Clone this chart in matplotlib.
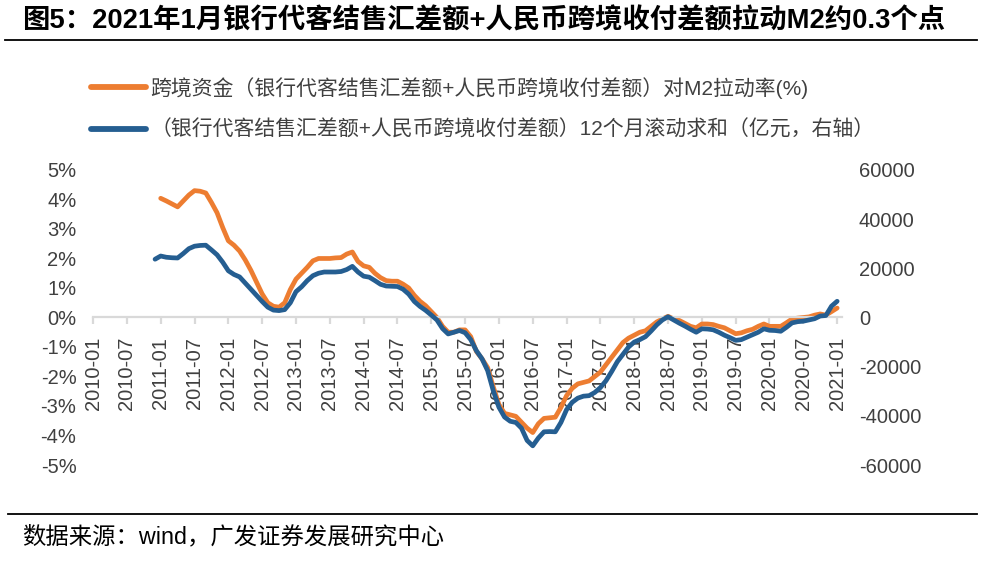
import numpy as np
import matplotlib
matplotlib.use("Agg")
from matplotlib import pyplot as plt

plt.rcParams['font.family'] = ['Liberation Sans', 'Noto Sans CJK SC']
plt.rcParams['axes.unicode_minus'] = False

# x axis: months counted from 2010-01
tick_pos = list(range(0, 133, 6))
tick_labels = ['2010-01', '2010-07', '2011-01', '2011-07', '2012-01', '2012-07',
               '2013-01', '2013-07', '2014-01', '2014-07', '2015-01', '2015-07',
               '2016-01', '2016-07', '2017-01', '2017-07', '2018-01', '2018-07',
               '2019-01', '2019-07', '2020-01', '2020-07', '2021-01']

# 跨境资金对M2拉动率 (%), monthly from 2011-01 to 2021-01
pull_start = 12
pull_rate = [
    4.04, 3.95, 3.85, 3.75, 3.95, 4.15, 4.30, 4.28, 4.22, 3.90, 3.55, 3.05,   # 2011
    2.60, 2.45, 2.25, 1.95, 1.60, 1.20, 0.80, 0.50, 0.38, 0.35, 0.50, 0.95,   # 2012
    1.30, 1.50, 1.70, 1.92, 2.00, 2.00, 2.00, 2.02, 2.03, 2.15, 2.22, 1.90,   # 2013
    1.75, 1.70, 1.50, 1.35, 1.25, 1.23, 1.23, 1.13, 1.00, 0.75, 0.55, 0.40,   # 2014
    0.20, 0.00, -0.30, -0.50, -0.50, -0.42, -0.42, -0.65, -1.15, -1.40, -1.70, -2.35,  # 2015
    -2.95, -3.25, -3.30, -3.35, -3.55, -3.75, -3.90, -3.60, -3.42, -3.40, -3.38, -3.05,  # 2016
    -2.65, -2.40, -2.25, -2.20, -2.15, -2.00, -1.85, -1.60, -1.35, -1.10, -0.85, -0.70,  # 2017
    -0.60, -0.50, -0.45, -0.30, -0.15, -0.05, 0.04, -0.05, -0.10, -0.20, -0.30, -0.35,  # 2018
    -0.22, -0.22, -0.24, -0.30, -0.35, -0.45, -0.55, -0.52, -0.45, -0.40, -0.30, -0.22,  # 2019
    -0.30, -0.30, -0.30, -0.18, -0.05, -0.02, 0.00, 0.02, 0.08, 0.12, 0.08, 0.20,   # 2020
    0.32,                                                                        # 2021-01
]

# 12个月滚动求和 (亿元), monthly from 2010-12 to 2021-01
roll_start = 11
roll_sum = [
    23700,
    25000, 24500, 24300, 24200, 26000, 28000, 29000, 29300, 29400, 27500, 25500, 22500,  # 2011
    19000, 17500, 16500, 14000, 11500, 9000, 6500, 4200, 3000, 2800, 3200, 6000,        # 2012
    10500, 12500, 15000, 17000, 18000, 18500, 18500, 18500, 18700, 19500, 20800, 18500,  # 2013
    16800, 16400, 15000, 13500, 12800, 12700, 12600, 11500, 9500, 6500, 4500, 2900,      # 2014
    1000, -1000, -4500, -6700, -6000, -5300, -6200, -9000, -13500, -16800, -21600, -29800,  # 2015
    -36500, -40500, -42200, -42700, -45000, -50000, -52200, -49000, -46500, -46400, -46500, -42700,  # 2016
    -37500, -34500, -32800, -32000, -31800, -30500, -28500, -25700, -22000, -18000, -15000, -12000,  # 2017
    -10000, -9000, -7800, -5500, -3000, -1000, 300, -1000, -2300, -3500, -4800, -6000,   # 2018
    -4600, -4700, -5000, -6000, -7200, -8200, -9300, -9000, -8000, -7000, -6000, -4600,  # 2019
    -5200, -5300, -5600, -4000, -2200, -1700, -1500, -1000, -500, 600, 800, 4600,        # 2020
    6600,                                                                              # 2021-01
]

label_pull = '跨境资金（银行代客结售汇差额+人民币跨境收付差额）对M2拉动率(%)'
label_roll = '（银行代客结售汇差额+人民币跨境收付差额）12个月滚动求和（亿元，右轴）'
title = '图5：2021年1月银行代客结售汇差额+人民币跨境收付差额拉动M2约0.3个点'
source = '数据来源：wind，广发证券发展研究中心'

orange = '#ED7D31'
blue = '#255E91'
grey_txt = '#404040'
axis_grey = '#D9D9D9'

fig = plt.figure(figsize=(9.92, 5.70), dpi=100)
ax = fig.add_axes([0.0938, 0.1842, 0.7552, 0.5176])
ax2 = ax.twinx()

x_pull = np.arange(pull_start, pull_start + len(pull_rate))
x_roll = np.arange(roll_start, roll_start + len(roll_sum))
l1, = ax.plot(x_pull, pull_rate, color=orange, lw=3.4,
              solid_capstyle='round', solid_joinstyle='round', label=label_pull)
l2, = ax2.plot(x_roll, roll_sum, color=blue, lw=3.4,
               solid_capstyle='round', solid_joinstyle='round', label=label_roll)

ax.set_xlim(0, 132.9)
ax.set_ylim(-5, 5)
ax2.set_ylim(-60000, 60000)

ax.set_yticks(range(-5, 6))
ax.set_yticklabels([f'{v}%' for v in range(-5, 6)])
ax2.set_yticks(range(-60000, 60001, 20000))

for a in (ax, ax2):
    for s in a.spines.values():
        s.set_visible(False)

ax.spines['bottom'].set_visible(True)
ax.spines['bottom'].set_position(('data', 0))
ax.spines['bottom'].set_color(axis_grey)
ax.spines['bottom'].set_linewidth(1.6)

ax.set_xticks(tick_pos)
ax.set_xticklabels(tick_labels, rotation=90, va='top', ha='center')
ax.tick_params(axis='x', length=5, width=1.6, color=axis_grey, pad=9,
               labelsize=14.5, labelcolor=grey_txt)
ax.tick_params(axis='y', length=0, pad=12, labelsize=14.5, labelcolor=grey_txt)
ax2.tick_params(axis='y', length=0, pad=12, labelsize=14.5, labelcolor=grey_txt)

leg = fig.legend(handles=[l1, l2], loc='upper left', bbox_to_anchor=(0.0915, 0.865),
                 frameon=False, fontsize=15, handlelength=2.65, handletextpad=0.2,
                 labelspacing=1.0, labelcolor=grey_txt, borderaxespad=0, borderpad=0)
for h in leg.legend_handles:
    h.set_linewidth(4.2)

# title and footer
fig.text(0.022, 0.963, title, fontsize=19.7, fontweight='bold', color='black',
         va='center', ha='left')
fig.add_artist(plt.Line2D([0.005, 0.985], [0.930, 0.930], color='black', lw=1.3))
fig.add_artist(plt.Line2D([0.008, 0.985], [0.098, 0.098], color='black', lw=1.3))
fig.text(0.022, 0.058, source, fontsize=16.8, color='black', va='center', ha='left')

fig.savefig('out.png', dpi=100)
plt.close(fig)
